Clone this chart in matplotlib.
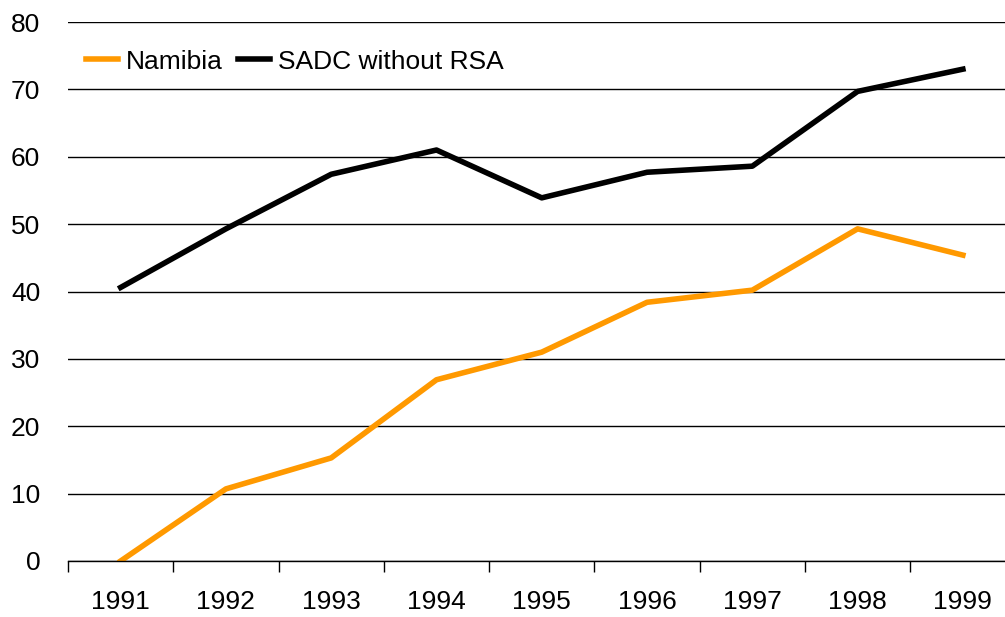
import numpy as np
import matplotlib.pyplot as plt

plt.rcParams['font.family'] = ['Liberation Sans', 'DejaVu Sans']

years = ['1991', '1992', '1993', '1994', '1995', '1996', '1997', '1998', '1999']
namibia = [0.0, 10.7, 15.3, 26.9, 31.0, 38.4, 40.2, 49.3, 45.4]
sadc = [40.6, 49.3, 57.4, 61.0, 53.9, 57.7, 58.6, 69.7, 73.0]

fig = plt.figure(figsize=(10.05, 6.17), dpi=100)
ax = fig.add_axes([68 / 1005, 56 / 617, (1005 - 68) / 1005, (561 - 22) / 617])

x = np.arange(len(years))
ax.plot(x, namibia, color='#FF9900', lw=4, label='Namibia')
ax.plot(x, sadc, color='black', lw=4, label='SADC without RSA')

ax.set_ylim(0, 80)
ax.set_xlim(-0.5, 8.4)
ax.set_yticks(range(0, 81, 10))
ax.yaxis.grid(True, color='black', lw=1)
ax.set_axisbelow(True)

ax.set_xticks(x)
ax.set_xticklabels(years)
ax.set_xticks(np.arange(-0.5, 8.5, 1), minor=True)
ax.tick_params(axis='x', which='major', length=0, pad=21, labelsize=19)
ax.tick_params(axis='x', which='minor', length=8, width=1, direction='out')
ax.tick_params(axis='y', length=0, pad=20, labelsize=19)

for s in ['top', 'right', 'left']:
    ax.spines[s].set_visible(False)
ax.spines['bottom'].set_linewidth(1)

ax.legend(loc='upper left', bbox_to_anchor=(-0.006, 0.993), ncol=2, frameon=False,
          fontsize=19, handlelength=1.2, handletextpad=0.3, columnspacing=0.6)

fig.savefig('out.png', dpi=100)
